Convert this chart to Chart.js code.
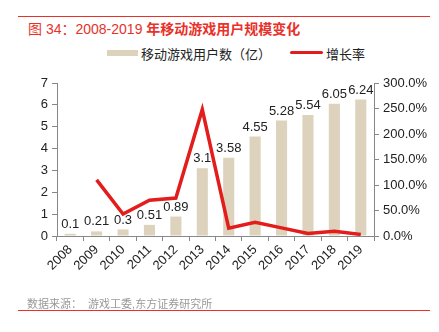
<!DOCTYPE html>
<html>
<head>
<meta charset="utf-8">
<script src="https://cdn.jsdelivr.net/npm/chart.js@4"></script>
<style>
  body { margin: 0; background: #fff; font-family: "Liberation Sans", "Noto Sans CJK SC", sans-serif; }
  #wrap { position: relative; width: 439px; height: 332px; overflow: hidden; }
  canvas { position: absolute; left: 0; top: 0; }
  .rule { position: absolute; left: 18px; width: 412px; height: 1px; background: #e8312a; }
  #title { position: absolute; left: 28px; top: 18px; font-size: 14px; color: #e8312a; white-space: nowrap; }
  #title b { font-weight: bold; }
  #legend { position: absolute; top: 44px; left: 0; font-size: 13px; color: #222; white-space: nowrap; }
  .sw { position: absolute; }
  .lt { position: absolute; top: 0; }
  #source { position: absolute; left: 27px; top: 295px; font-size: 11px; color: #999; white-space: nowrap; }
</style>
</head>
<body>
<div id="wrap">
  <div class="rule" style="top:16px"></div>
  <div id="title">图 34：2008-2019 <b>年移动游戏用户规模变化</b></div>
  <div id="legend">
    <div class="sw" style="left:107px; top:6px; width:31px; height:6px; background:#ddd3bc"></div>
    <div class="lt" style="left:141px">移动游戏用户数（亿）</div>
    <div class="sw" style="left:290px; top:7px; width:33px; height:3px; background:#e31d1c; border-radius:2px"></div>
    <div class="lt" style="left:326px">增长率</div>
  </div>
  <canvas id="chart" width="439" height="332"></canvas>
  <div id="source">数据来源：&nbsp;&nbsp;游戏工委,东方证券研究所</div>
  <div class="rule" style="top:310px"></div>
</div>
<script>
// data
const years = ['2008', '2009', '2010', '2011', '2012', '2013', '2014', '2015', '2016', '2017', '2018', '2019'];
const users = [0.1, 0.21, 0.3, 0.51, 0.89, 3.1, 3.58, 4.55, 5.28, 5.54, 6.05, 6.24];
const growth = [null, 110, 43, 70, 74.5, 248, 15.5, 27, 16, 5, 9.2, 3.1];
const leftTicks = [0, 1, 2, 3, 4, 5, 6, 7];
const rightTicks = [0, 50, 100, 150, 200, 250, 300];

const barColor = '#ddd3bc';
const lineColor = '#e31d1c';

// value labels above bars
const barLabels = {
  id: 'barLabels',
  afterDatasetsDraw(chart) {
    const ctx = chart.ctx;
    const meta = chart.getDatasetMeta(0);
    ctx.save();
    ctx.font = '13px "Liberation Sans", sans-serif';
    ctx.fillStyle = '#222';
    ctx.textAlign = 'center';
    ctx.textBaseline = 'bottom';
    meta.data.forEach((bar, i) => {
      ctx.fillText(String(users[i]), bar.x, bar.y - 3);
    });
    ctx.restore();
  }
};

const tickFont = { family: '"Liberation Sans", sans-serif', size: 13 };

new Chart(document.getElementById('chart'), {
  data: {
    labels: years,
    datasets: [
      {
        type: 'bar', label: '移动游戏用户数（亿）', data: users, yAxisID: 'y',
        backgroundColor: barColor, barPercentage: 0.42, categoryPercentage: 1, order: 2
      },
      {
        type: 'line', label: '增长率', data: growth, yAxisID: 'y1',
        borderColor: lineColor, borderWidth: 3.5, pointRadius: 0, tension: 0,
        spanGaps: false, order: 1
      }
    ]
  },
  options: {
    responsive: false,
    animation: false,
    layout: { padding: { top: 83, left: 0, right: 0, bottom: 0 } },
    plugins: { legend: { display: false }, tooltip: { enabled: false } },
    scales: {
      x: {
        offset: true,
        grid: { display: true, drawOnChartArea: false, tickLength: 5, color: '#888', offset: true },
        border: { display: true, color: '#888' },
        ticks: { font: { family: '"Liberation Sans", sans-serif', size: 13 }, color: '#222', maxRotation: 45, minRotation: 45, padding: 1 },
        afterFit(s) { s.height = 96; }
      },
      y: {
        position: 'left', min: 0, max: 7,
        afterBuildTicks(s) { s.ticks = leftTicks.map(v => ({ value: v })); },
        grid: { drawOnChartArea: false, tickLength: 5, color: '#888' },
        border: { display: true, color: '#888' },
        ticks: { font: tickFont, color: '#222', padding: 4 },
        afterFit(s) { s.width = 57; }
      },
      y1: {
        position: 'right', min: 0, max: 300,
        afterBuildTicks(s) { s.ticks = rightTicks.map(v => ({ value: v })); },
        grid: { drawOnChartArea: false, tickLength: 5, color: '#888' },
        border: { display: true, color: '#888' },
        ticks: { font: tickFont, color: '#222', padding: 4, callback: v => v.toFixed(1) + '%' },
        afterFit(s) { s.width = 65; }
      }
    }
  },
  plugins: [barLabels]
});
</script>
</body>
</html>
